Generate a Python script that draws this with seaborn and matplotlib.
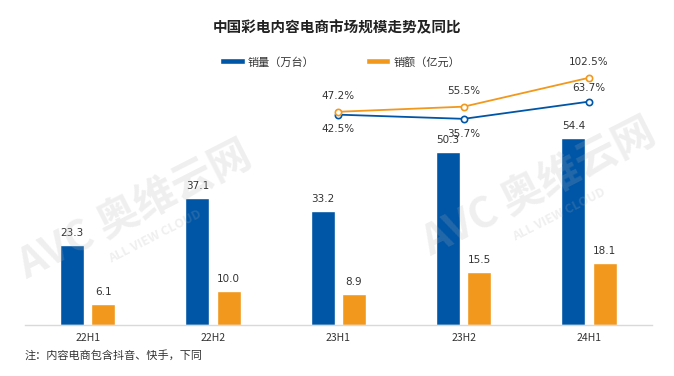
import seaborn as sns
import pandas as pd
import numpy as np
import matplotlib.pyplot as plt

sns.set_theme(style="white")
plt.rcParams['font.family'] = ['Noto Sans CJK SC', 'DejaVu Sans']

periods = ['22H1', '22H2', '23H1', '23H2', '24H1']
volume = [23.3, 37.1, 33.2, 50.3, 54.4]      # 销量（万台）
sales = [6.1, 10.0, 8.9, 15.5, 18.1]         # 销额（亿元）
yoy_periods = ['23H1', '23H2', '24H1']
volume_yoy = [42.5, 35.7, 63.7]
sales_yoy = [47.2, 55.5, 102.5]

blue = '#0056A6'
orange = '#F2981C'
txt = '#333333'

df = pd.DataFrame({
    'period': periods * 2,
    'value': volume + sales,
    'kind': ['销量（万台）'] * 5 + ['销额（亿元）'] * 5,
})

fig = plt.figure(figsize=(6.74, 3.76), dpi=100)
ax = fig.add_axes([0.037, 0.136, 0.93, 0.705])

sns.barplot(data=df, x='period', y='value', hue='kind', order=periods,
            palette=[blue, orange], width=0.5, gap=0.24, ax=ax, saturation=1)

for cont in ax.containers:
    ax.bar_label(cont, fmt='%.1f', padding=5, fontsize=7.5, color=txt,
                 family='DejaVu Sans')

ax.set_ylim(0, 77.3)
ax.set_xlim(-0.5, 4.5)
ax.set_xlabel('')
ax.set_ylabel('')
ax.set_yticks([])
ax.tick_params(axis='x', length=0, labelsize=7.5, colors=txt, pad=6)
for s in ['top', 'right', 'left']:
    ax.spines[s].set_visible(False)
ax.spines['bottom'].set_color('#d9d9d9')
ax.spines['bottom'].set_linewidth(1)

handles, labels = ax.get_legend_handles_labels()
ax.legend_.remove()
fig.legend(handles, labels, loc='center', bbox_to_anchor=(0.505, 0.835), ncol=2,
           frameon=False, fontsize=8, handlelength=2.2, handleheight=0.45,
           columnspacing=4.6, handletextpad=0.3, labelcolor=txt)

# secondary axis for YoY lines
ax2 = ax.twinx()
ax2.set_ylim(-299.2, 131.7)
xpos = [periods.index(p) for p in yoy_periods]
line_df = pd.DataFrame({'x': xpos * 2, 'y': volume_yoy + sales_yoy,
                        'kind': ['v'] * 3 + ['s'] * 3})
sns.lineplot(data=line_df, x='x', y='y', hue='kind', palette=[blue, orange],
             marker='o', markersize=4.5, markerfacecolor='white',
             markeredgewidth=1.2, linewidth=1.3, legend=False, ax=ax2)
for ln, c in zip(ax2.lines, [blue, orange]):
    ln.set_markeredgecolor(c)
ax2.set_xlim(-0.5, 4.5)
ax2.set_yticks([])
ax2.set_ylabel('')
ax2.set_xlabel('')
for s in ax2.spines.values():
    s.set_visible(False)

for i, (x, v, s) in enumerate(zip(xpos, volume_yoy, sales_yoy)):
    ax2.annotate(f'{s}%', (x, s), xytext=(0, 8), textcoords='offset points',
                 ha='center', va='bottom', fontsize=7.5, color=txt, family='DejaVu Sans')
    if i < 2:
        ax2.annotate(f'{v}%', (x, v), xytext=(0, -7), textcoords='offset points',
                     ha='center', va='top', fontsize=7.5, color=txt, family='DejaVu Sans')
    else:
        ax2.annotate(f'{v}%', (x, v), xytext=(0, 6), textcoords='offset points',
                     ha='center', va='bottom', fontsize=7.5, color=txt, family='DejaVu Sans')

# watermark
for cx, cy in [(0.2, 0.44), (0.8, 0.5)]:
    fig.text(cx, cy, 'AVC 奥维云网', rotation=27, ha='center', va='center',
             fontsize=30, fontweight='bold', style='italic', color='#b0b0b0',
             alpha=0.2, zorder=0)
    fig.text(cx + 0.03, cy - 0.07, 'ALL VIEW CLOUD', rotation=27, ha='center',
             va='center', fontsize=9, fontweight='bold', color='#b0b0b0',
             alpha=0.2, zorder=0)

fig.text(0.5, 0.928, '中国彩电内容电商市场规模走势及同比', ha='center', va='center',
         fontsize=10.5, fontweight='bold', color='#222222')
fig.text(0.037, 0.056, '注：内容电商包含抖音、快手，下同', ha='left', va='center',
         fontsize=8, color=txt)

fig.savefig('out.png', dpi=100)
